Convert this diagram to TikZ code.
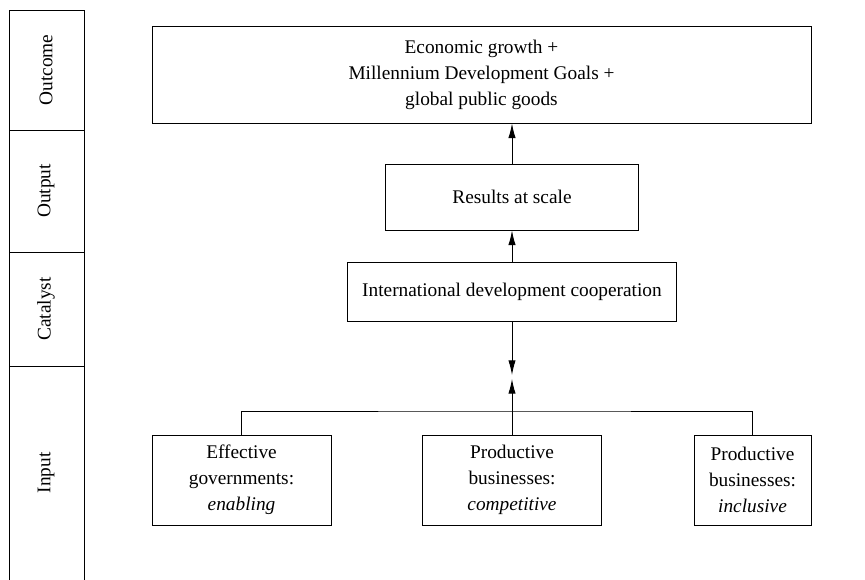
\documentclass[tikz,border=0pt]{standalone}
\usepackage{fontspec}
\setmainfont{Liberation Serif}
\usetikzlibrary{arrows.meta,positioning}

\begin{document}
\begin{tikzpicture}[x=0.75pt,y=-0.75pt,>={Latex[length=11pt,width=5.5pt]},
 font=\fontsize{14.5}{19.5}\selectfont,
 box/.style={draw,line width=.7pt,align=center,inner sep=3pt},
 band/.style={rotate=90,anchor=center},
 arr/.style={->,line width=.7pt}]
\useasboundingbox (0,0) rectangle (865,580);
% stage column on the left
\draw[line width=.7pt] (9,580) -- (9,10) -- (84,10) -- (84,580);
\draw[line width=.7pt] (9,130) -- (84,130) (9,252) -- (84,252) (9,366) -- (84,366);
\node[band] (outcome) at (46,70) {Outcome};
\node[band] (output) at (46,191) {Output};
\node[band] (catalyst) at (46,309) {Catalyst};
\node[band] (input) at (46,473) {Input};
% boxes
\node[box,minimum width=659*0.75pt,minimum height=97*0.75pt] (goal) at (481.5,74.5) {Economic growth +\\ Millennium Development Goals +\\ global public goods};
\node[box,minimum width=253*0.75pt,minimum height=66*0.75pt] (res) at (512,197) {Results at scale};
\node[box,minimum width=329*0.75pt,minimum height=59*0.75pt] (idc) at (512,291.5) {International development cooperation};
\node[box,minimum width=179*0.75pt,minimum height=90*0.75pt] (gov) at (241.5,480) {Effective\\ governments:\\ \textit{enabling}};
\node[box,minimum width=179*0.75pt,minimum height=90*0.75pt] (comp) at (512,480) {Productive\\ businesses:\\ \textit{competitive}};
\node[box,minimum width=117*0.75pt,minimum height=90*0.75pt] (incl) at (752.5,480) {Productive\\ businesses:\\ \textit{inclusive}};
\coordinate (join) at (512,411);
\coordinate (meet) at (512,375);
% connectors
\draw[line width=.7pt] (gov.north) |- (join) -| (incl.north);
\draw[line width=.7pt] (comp.north) -- (join);
\draw[arr] (join) -- ([yshift=-3pt]meet);
\draw[arr] (idc.south) -- (meet);
\draw[arr] (idc.north) -- (res.south);
\draw[arr] (res.north) -- (res.north|-goal.south);
\end{tikzpicture}
\end{document}
